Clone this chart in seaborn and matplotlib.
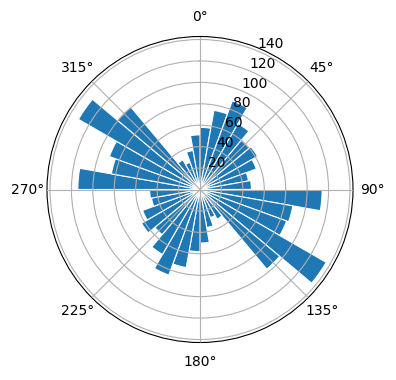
import numpy as np
import pandas as pd
import matplotlib
matplotlib.use("Agg")
import matplotlib.pyplot as plt
import seaborn as sns

# direction bins (degrees, clockwise from north) and counts
bin_start = list(range(0, 360, 10))
counts = [58, 75, 88, 71, 60, 62, 56, 46, 48,
          114, 88, 86, 136, 97, 32, 28, 36, 50,
          58, 74, 85, 70, 55, 63, 57, 46, 47,
          114, 84, 90, 131, 101, 32, 27, 37, 51]

df = pd.DataFrame({
    "theta": np.deg2rad(np.array(bin_start) + 5.0),
    "r": counts,
})

fig = plt.figure(figsize=(3.96, 3.8), dpi=100)
ax = fig.add_axes([47 / 396, 37.5 / 380, 306 / 396, 306 / 380], projection="polar")
ax.set_theta_zero_location("N")
ax.set_theta_direction(-1)

blue = sns.color_palette("tab10")[0]
sns.barplot(data=df, x="theta", y="r", native_scale=True, orient="x",
            width=1.0, color=blue, saturation=1, errorbar=None,
            edgecolor="white", linewidth=0.8, ax=ax)

ax.set_xlabel("")
ax.set_ylabel("")
ax.set_ylim(0, max(counts) * 1.05)
ax.set_yticks([20, 40, 60, 80, 100, 120, 140])
ax.set_xticks(np.deg2rad(np.arange(0, 360, 45)))
ax.set_xticklabels([f"{d}\u00b0" for d in range(0, 360, 45)])
ax.grid(True)
ax.set_axisbelow(False)

fig.savefig("out.png", dpi=100)
